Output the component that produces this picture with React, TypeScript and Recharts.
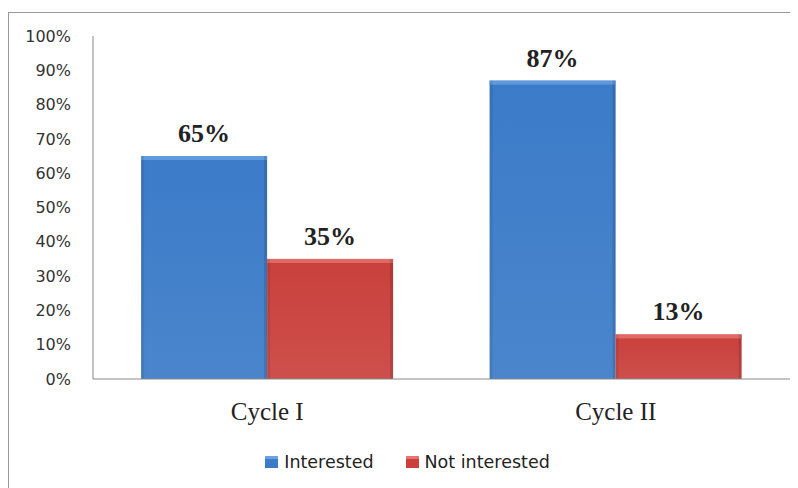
import { BarChart, Bar, XAxis, YAxis, LabelList, Legend } from "recharts";

const cycles = ["Cycle I", "Cycle II"];
const interested = [65, 87];
const notInterested = [35, 13];
const yTicks = [0, 10, 20, 30, 40, 50, 60, 70, 80, 90, 100];

const data = cycles.map((c, i) => ({
  cycle: c,
  interested: interested[i],
  notInterested: notInterested[i],
}));

const SERIES = [
  { key: "interested", name: "Interested", grad: "gradBlue", color: "#3b7bc8", light: "#6aa3e4" },
  { key: "notInterested", name: "Not interested", grad: "gradRed", color: "#c9403c", light: "#e77470" },
];

function BevelBar(props: any) {
  const { x, y, width, height, fill, light } = props;
  if (!height || height <= 0) return null;
  return (
    <g>
      <rect x={x} y={y} width={width} height={height} fill={fill} />
      <rect x={x} y={y} width={width} height={4} fill={light} opacity={0.8} />
      <rect x={x} y={y} width={3} height={height} fill="#000" opacity={0.08} />
      <rect x={x + width - 3} y={y} width={3} height={height} fill="#000" opacity={0.12} />
    </g>
  );
}

function LegendContent() {
  return (
    <div
      style={{
        display: "flex",
        justifyContent: "center",
        gap: 32,
        fontFamily: "DejaVu Sans, sans-serif",
        fontSize: 17.5,
        lineHeight: "20px",
        color: "#222",
        paddingRight: 8,
      }}
    >
      {SERIES.map((s) => (
        <div key={s.key} style={{ display: "flex", alignItems: "center", gap: 6 }}>
          <div
            style={{
              width: 13,
              height: 12,
              background: s.color,
              borderTop: `3px solid ${s.light}`,
              boxSizing: "border-box",
            }}
          />
          <span>{s.name}</span>
        </div>
      ))}
    </div>
  );
}

export default function App() {
  return (
    <div
      style={{
        marginTop: 4,
        width: 789,
        height: 475,
        borderLeft: "1px solid #999",
        borderTop: "1px solid #999",
        background: "#fff",
        overflow: "hidden",
      }}
    >
      <BarChart
        width={789}
        height={475}
        data={data}
        margin={{ top: 23, right: 8, bottom: 39, left: 24 }}
        barCategoryGap="13.8%"
        barGap={0}
      >
        <defs>
          {SERIES.map((s) => (
            <linearGradient key={s.grad} id={s.grad} x1="0" y1="0" x2="0" y2="1">
              <stop offset="0%" stopColor={s.color} />
              <stop offset="100%" stopColor={s.color} stopOpacity={0.92} />
            </linearGradient>
          ))}
        </defs>
        <XAxis
          dataKey="cycle"
          axisLine={{ stroke: "#888" }}
          tickLine={false}
          tickSize={0}
          tickMargin={23}
          height={50}
          tick={{ fontFamily: "Liberation Serif, serif", fontSize: 25, fill: "#222" }}
        />
        <YAxis
          domain={[0, 100]}
          ticks={yTicks}
          interval={0}
          width={60}
          axisLine={{ stroke: "#888" }}
          tickLine={false}
          tickSize={0}
          tickMargin={22}
          tickFormatter={(v: number) => `${v}%`}
          tick={{ fontFamily: "DejaVu Sans, sans-serif", fontSize: 16, fill: "#333" }}
        />
        <Legend verticalAlign="bottom" content={<LegendContent />} wrapperStyle={{ bottom: 16 }} />
        {SERIES.map((s) => (
          <Bar
            key={s.key}
            dataKey={s.key}
            name={s.name}
            fill={`url(#${s.grad})`}
            isAnimationActive={false}
            shape={(p: any) => <BevelBar {...p} fill={`url(#${s.grad})`} light={s.light} />}
          >
            <LabelList
              dataKey={s.key}
              position="top"
              offset={14}
              formatter={(v: number) => `${v}%`}
              style={{ fontFamily: "Liberation Serif, serif", fontSize: 26, fontWeight: "bold", fill: "#222" }}
            />
          </Bar>
        ))}
      </BarChart>
    </div>
  );
}
